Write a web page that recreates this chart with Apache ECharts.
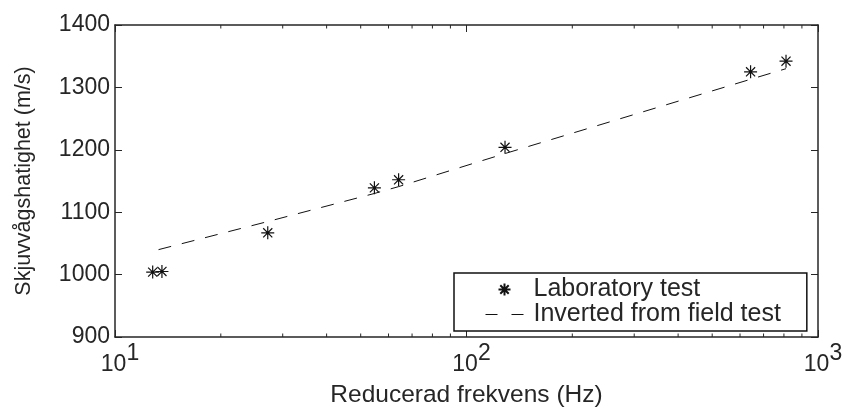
<!DOCTYPE html>
<html><head><meta charset="utf-8">
<script src="https://cdn.jsdelivr.net/npm/echarts@6/dist/echarts.min.js"></script>
<style>html,body{margin:0;padding:0;background:#fff}#c{width:846px;height:407px}</style>
</head><body><div id="c"></div>
<script>
// Laboratory test (stars)
const labFreq = [12.8, 13.6, 27.2, 54.7, 64.1, 128.7, 643, 811];
const labVel  = [1004, 1005, 1067, 1139, 1152, 1204, 1325, 1342];
// Inverted from field test (dashed line)
const fieldFreq = [13.3, 27.2, 54.7, 64.1, 128.7, 643, 811];
const fieldVel  = [1040, 1085, 1130, 1141, 1194, 1313, 1330];
// Axis ticks
const xMajorTicks = [10, 100, 1000];
const xMinorTicks = [20, 30, 40, 50, 60, 70, 80, 90, 200, 300, 400, 500, 600, 700, 800, 900];
const yTicks = [900, 1000, 1100, 1200, 1300, 1400];

const FONT = 'Liberation Sans';
const TXT = '#262626';
const AX = '#262626';
const Y_MIN = yTicks[0], Y_MAX = yTicks[yTicks.length - 1];
const X_MIN = xMajorTicks[0], X_MAX = xMajorTicks[xMajorTicks.length - 1];
const STAR = 'path://M0,-10V10M-10,0H10M-7,-7L7,7M-7,7L7,-7';

const chart = echarts.init(document.getElementById('c'), null, {renderer: 'canvas'});

const xBase = {
  type: 'log', logBase: 10, min: X_MIN, max: X_MAX,
  axisLine: {show: true, onZero: false, lineStyle: {color: AX, width: 1.5}},
  axisTick: {show: true, inside: true, length: 7, lineStyle: {color: AX, width: 1}},
  splitLine: {show: false}, minorTick: {show: false}, minorSplitLine: {show: false}
};
const yBase = {
  type: 'value', min: Y_MIN, max: Y_MAX, interval: 100,
  axisLine: {show: true, onZero: false, lineStyle: {color: AX, width: 1.5}},
  axisTick: {show: true, inside: true, length: 7, lineStyle: {color: AX, width: 1}},
  splitLine: {show: false}
};

chart.setOption({
  animation: false,
  backgroundColor: '#fff',
  grid: {left: 115, right: 28, top: 25, bottom: 70, containLabel: false, outerBoundsMode: 'none'},
  xAxis: [
    Object.assign({}, xBase, {
      position: 'bottom',
      name: 'Reducerad frekvens (Hz)', nameLocation: 'middle', nameGap: 46,
      nameTextStyle: {fontFamily: FONT, fontSize: 24.5, color: TXT},
      axisLabel: {
        show: true, margin: 5,
        formatter: v => '{b|10}{s|' + Math.round(Math.log10(v)) + '}',
        rich: {
          b: {fontFamily: FONT, fontSize: 23, color: TXT, verticalAlign: 'bottom', lineHeight: 23, padding: [0, 0, 0, 10]},
          s: {fontFamily: FONT, fontSize: 23, color: TXT, verticalAlign: 'bottom', lineHeight: 34, padding: [0, 0, 11, 0]}
        }
      }
    }),
    Object.assign({}, xBase, {position: 'top', axisLabel: {show: false}})
  ],
  yAxis: [
    Object.assign({}, yBase, {
      position: 'left',
      name: 'Skjuvvågshatighet (m/s)', nameLocation: 'middle', nameGap: 80, nameRotate: 90,
      nameTextStyle: {fontFamily: FONT, fontSize: 21.5, color: TXT},
      axisLabel: {show: true, margin: 5, fontFamily: FONT, fontSize: 23, color: TXT, formatter: v => String(v)}
    }),
    Object.assign({}, yBase, {position: 'right', axisLabel: {show: false}})
  ],
  legend: {
    show: true, orient: 'vertical', left: 454, top: 273,
    backgroundColor: '#fff', borderColor: '#111', borderWidth: 1.5, borderRadius: 0,
    padding: [4, 26, 4, 31], itemGap: 0, itemWidth: 38, itemHeight: 12,
    textStyle: {fontFamily: FONT, fontSize: 25, color: TXT, lineHeight: 23, padding: [0, 0, 0, 5]},
    lineStyle: {color: '#111', width: 1, type: [12, 14]},
    data: [{name: 'Laboratory test'}, {name: 'Inverted from field test'}],
    selectedMode: false, z: 10
  },
  series: [
    {
      type: 'custom', name: 'minorTicks', silent: true, clip: false, xAxisIndex: 0, yAxisIndex: 0,
      data: xMinorTicks.map(v => [v, Y_MIN]),
      renderItem: function (params, api) {
        const x = api.value(0);
        const b = api.coord([x, Y_MIN]);
        const t = api.coord([x, Y_MAX]);
        return {type: 'group', children: [
          {type: 'line', shape: {x1: b[0], y1: b[1], x2: b[0], y2: b[1] - 3.5}, style: {stroke: AX, lineWidth: 1}},
          {type: 'line', shape: {x1: t[0], y1: t[1], x2: t[0], y2: t[1] + 3.5}, style: {stroke: AX, lineWidth: 1}}
        ]};
      }
    },
    {
      type: 'line', name: 'Inverted from field test', xAxisIndex: 0, yAxisIndex: 0,
      data: fieldFreq.map((f, i) => [f, fieldVel[i]]),
      symbol: 'emptyCircle', showSymbol: false, symbolSize: 0, smooth: false,
      lineStyle: {color: '#111', width: 1, type: [13, 11]},
      itemStyle: {color: 'rgba(0,0,0,0)', borderColor: 'rgba(0,0,0,0)', borderWidth: 0}
    },
    {
      type: 'scatter', name: 'Laboratory test', xAxisIndex: 0, yAxisIndex: 0,
      data: labFreq.map((f, i) => [f, labVel[i]]),
      symbol: STAR, symbolSize: 13,
      itemStyle: {color: '#111', borderColor: '#111', borderWidth: 1.2, opacity: 1}
    }
  ]
});
</script></body></html>
